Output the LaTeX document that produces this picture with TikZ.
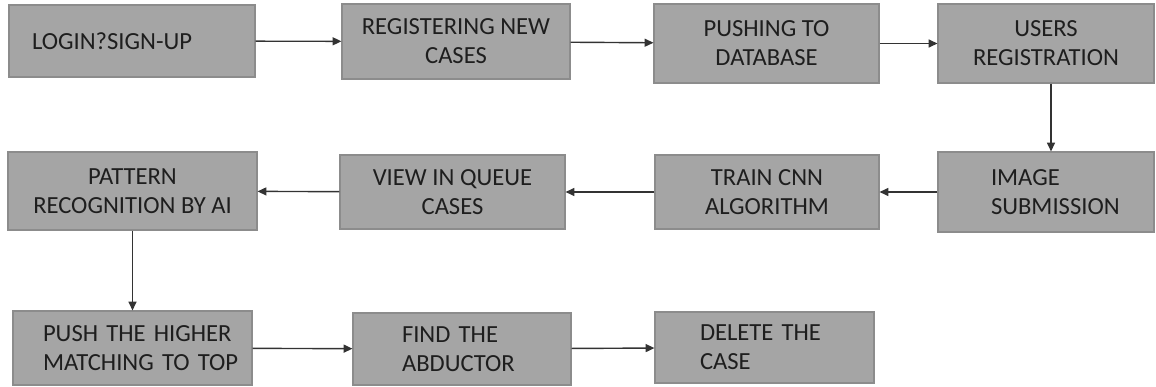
\documentclass[tikz,border=0pt]{standalone}
\usepackage{fontspec}
\setmainfont{Carlito}
\usepackage{tikz}
\usetikzlibrary{arrows.meta}
\usepackage{xcolor}
\definecolor{boxgray}{HTML}{A5A5A5}
\definecolor{boxedge}{HTML}{8C8C8C}
\definecolor{inkgray}{HTML}{1E1E1E}
\tikzstyle{process} = [rectangle, fill=boxgray, draw=boxedge, line width=0.6pt, align=center, inner sep=0pt, text=inkgray, font=\fontsize{14}{16.5}\selectfont]
\tikzstyle{arrow} = [line width=0.8pt, draw=black!80, -{Triangle[length=5pt,width=4.5pt]}]
\hyphenpenalty=10000

\begin{document}
\begin{tikzpicture}
		\useasboundingbox (0, 0) rectangle (23.12, -7.74);
		% top row
		\node (login) [process, minimum width=4.92cm, minimum height=1.44cm, text width=4cm, align=left] at (2.64, -0.82) {LOGIN?SIGN-UP};
		\node (register) [process, minimum width=4.56cm, minimum height=1.50cm] at (9.12, -0.83) {REGISTERING NEW\\CASES};
		\node (database) [process, minimum width=4.50cm, minimum height=1.58cm] at (15.33, -0.87) {PUSHING TO\\DATABASE};
		\node (users) [process, minimum width=4.32cm, minimum height=1.58cm] at (20.92, -0.87) {USERS\\REGISTRATION};
		% middle row
		\node (imagesub) [process, minimum width=4.32cm, minimum height=1.60cm, text width=2.20cm, align=left] at (20.92, -3.84) {\mbox{IMAGE}\\\mbox{SUBMISSION}};
		\node (train) [process, minimum width=4.48cm, minimum height=1.48cm] at (15.34, -3.84) {TRAIN CNN\\ALGORITHM};
		\node (queue) [process, minimum width=4.50cm, minimum height=1.48cm] at (9.05, -3.84) {VIEW IN QUEUE\\CASES};
		\node (pattern) [process, minimum width=4.98cm, minimum height=1.56cm] at (2.65, -3.82) {PATTERN\\RECOGNITION BY AI};
		% bottom row
		\node (pushtop) [process, minimum width=4.78cm, minimum height=1.48cm, text width=3.58cm, align=left] at (2.65, -6.96) {\mbox{PUSH THE HIGHER}\\\mbox{MATCHING TO TOP}};
		\node (abductor) [process, minimum width=4.36cm, minimum height=1.44cm, text width=2.40cm, align=left] at (9.24, -6.98) {\mbox{FIND THE}\\\mbox{ABDUCTOR}};
		\node (delete) [process, minimum width=4.38cm, minimum height=1.42cm, text width=2.58cm, align=left] at (15.29, -6.95) {\mbox{DELETE THE}\\\mbox{CASE}};
		% connectors
		\draw [arrow] (login) -- (register);
		\draw [arrow] (register) -- (database);
		\draw [arrow] (database) -- (users);
		\draw [arrow] ([xshift=0.1cm]users.south) -- ([xshift=0.1cm]imagesub.north);
		\draw [arrow] (imagesub) -- (train);
		\draw [arrow] (train) -- (queue);
		\draw [arrow] (queue) -- (pattern);
		\draw [arrow] (pattern) -- (pushtop);
		\draw [arrow] (pushtop) -- (abductor);
		\draw [arrow] (abductor) -- (delete);
		\end{tikzpicture}
\end{document}
